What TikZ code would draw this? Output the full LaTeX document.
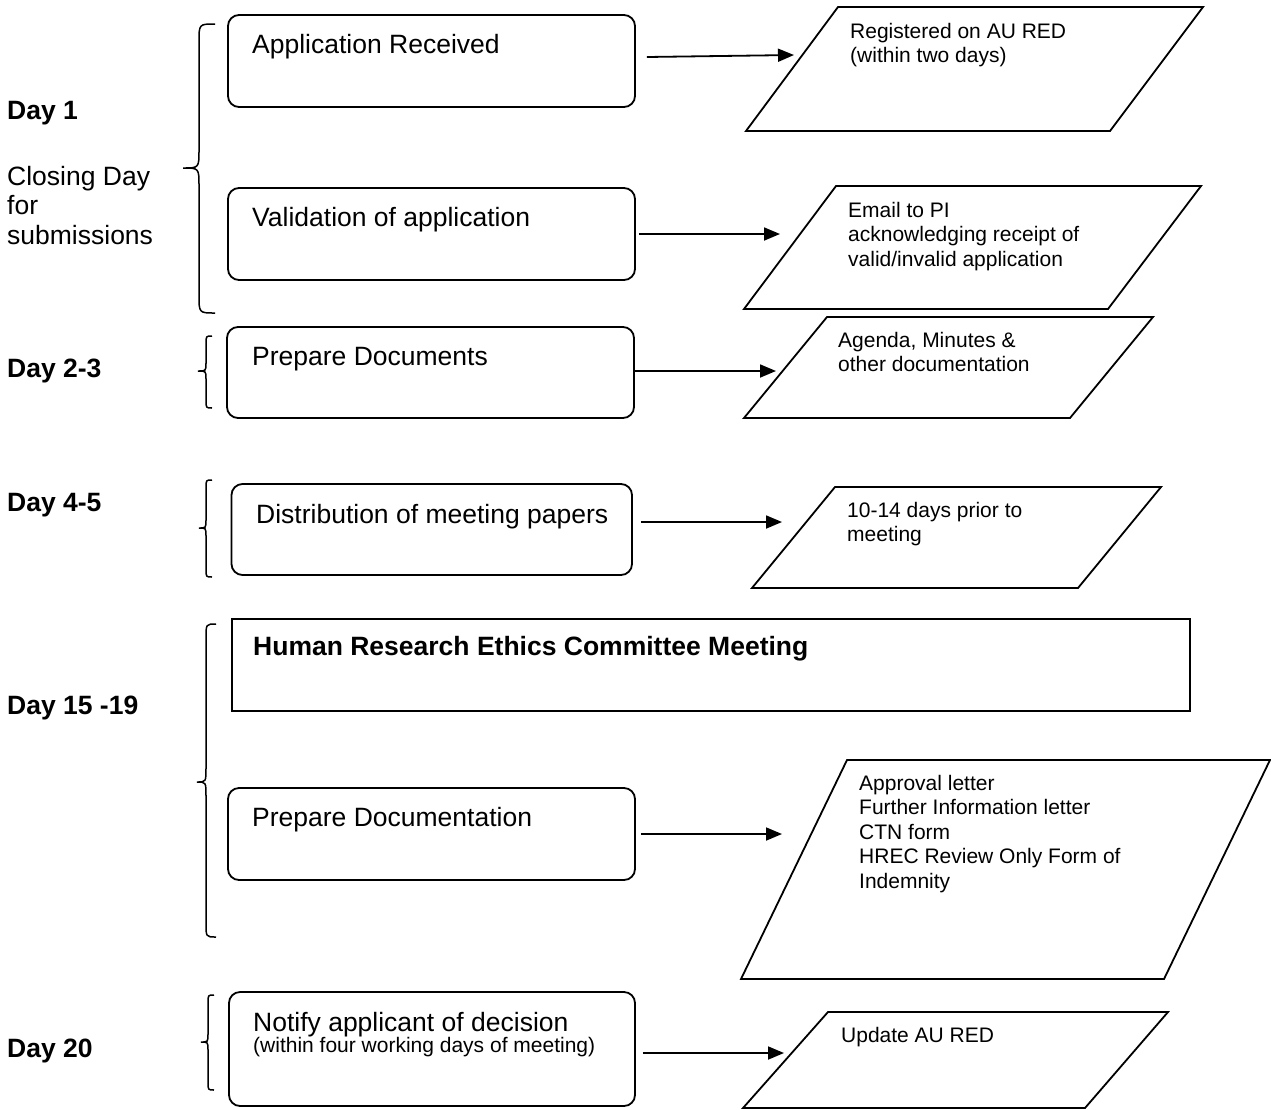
\documentclass[tikz,border=0pt]{standalone}
\usepackage{fontspec}
\setmainfont{Liberation Sans}
\usetikzlibrary{arrows.meta}
\newcommand\cbrace[7]{%
  \draw[bline] (#1,#4) .. controls (#2,#4) .. (#2,{#4+#7}) -- (#2,{#5-#7})
    .. controls (#2,#5) .. (#3,#5) .. controls (#2,#5) .. (#2,{#5+#7})
    -- (#2,{#6-#7}) .. controls (#2,#6) .. (#1,#6);}
\newcommand\lines[1]{\begin{tabular}[t]{@{}l@{}}#1\end{tabular}}
\begin{document}
\begin{tikzpicture}[x=1pt,y=-1pt,
  rbox/.style={draw, line width=1.8pt, rounded corners=11pt, inner sep=0pt},
  sbox/.style={draw, line width=1.8pt, inner sep=0pt},
  para/.style={draw, line width=1.8pt, line join=miter},
  bline/.style={line width=1.5pt},
  arr/.style={line width=1.8pt, -{Triangle[length=16pt,width=13pt]}},
  txt/.style={anchor=base west, inner sep=0pt, font=\fontsize{26.5}{29.5}\selectfont},
  btxt/.style={anchor=base west, inner sep=0pt, font=\fontsize{26.5}{29.5}\selectfont\bfseries},
  stxt/.style={anchor=base west, inner sep=0pt, font=\fontsize{21}{24.5}\selectfont},
]
\useasboundingbox (0,0) rectangle (1271,1109);
\fill[white] (0,0) rectangle (1271,1109);

% left labels
\node[btxt] (d1) at (7,119) {Day 1};
\node[txt] (cd) at (7,185) {\lines{Closing Day\\for\\submissions}};
\node[btxt] (d23) at (7,377) {Day 2-3};
\node[btxt] (d45) at (7,511) {Day 4-5};
\node[btxt] (d1519) at (7,714) {Day 15 -19};
\node[btxt] (d20) at (7,1057) {Day 20};

% braces
\cbrace{215}{199}{183}{24}{168}{313}{18}
\cbrace{212}{206}{198}{336}{371}{408}{8}
\cbrace{212}{206}{199}{480}{528}{577}{8}
\cbrace{216}{206}{197}{624}{782}{937}{14}
\cbrace{214}{208}{201}{995}{1042}{1090}{8}

% process boxes
\node[rbox, minimum width=407pt, minimum height=92pt] (b1) at (431.5,61) {};
\node[rbox, minimum width=407pt, minimum height=92pt] (b2) at (431.5,234) {};
\node[rbox, minimum width=407pt, minimum height=91pt] (b3) at (430.5,372.5) {};
\node[rbox, minimum width=400.5pt, minimum height=91pt] (b4) at (431.75,529.5) {};
\node[sbox, minimum width=958pt, minimum height=92pt] (b5) at (711,665) {};
\node[rbox, minimum width=407pt, minimum height=92pt] (b6) at (431.5,834) {};
\node[rbox, minimum width=406pt, minimum height=114pt] (b7) at (432,1049) {};

\node[txt] (t1) at (252,53) {Application Received};
\node[txt] (t2) at (252,226) {Validation of application};
\node[txt] (t3) at (252,365) {Prepare Documents};
\node[txt] (t4) at (256,523) {Distribution of meeting papers};
\node[btxt] (t5) at (253,655) {Human Research Ethics Committee Meeting};
\node[txt] (t6) at (252,826) {Prepare Documentation};
\node[txt] (t7) at (253,1031) {Notify applicant of decision};
\node[stxt] (t7b) at (253,1052) {(within four working days of meeting)};

% data parallelograms
\draw[para] (838,7) -- (1203,7) -- (1110,131) -- (746,131) -- cycle;
\draw[para] (836,186) -- (1201,186) -- (1108,309) -- (744,309) -- cycle;
\draw[para] (827,317) -- (1153,317) -- (1070,418) -- (744,418) -- cycle;
\draw[para] (835,487) -- (1161,487) -- (1078,588) -- (752,588) -- cycle;
\draw[para] (847,760) -- (1270,760) -- (1164,979) -- (741,979) -- cycle;
\draw[para] (828,1012) -- (1168,1012) -- (1085,1108) -- (743,1108) -- cycle;

\node[stxt] (p1) at (850,38) {\lines{Registered on AU RED\\(within two days)}};
\node[stxt] (p2) at (848,217) {\lines{Email to PI\\acknowledging receipt of\\valid/invalid application}};
\node[stxt] (p3) at (838,347) {\lines{Agenda, Minutes \&\\other documentation}};
\node[stxt] (p4) at (847,517) {\lines{10-14 days prior to\\meeting}};
\node[stxt] (p6) at (859,790) {\lines{Approval letter\\Further Information letter\\CTN form\\HREC Review Only Form of\\Indemnity}};
\node[stxt] (p7) at (841,1042) {Update AU RED};

% arrow targets
\coordinate (e1) at (794,55);
\coordinate (e2) at (780,234);
\coordinate (e3) at (776,371);
\coordinate (e4) at (782,522);
\coordinate (e6) at (782,834);
\coordinate (e7) at (784,1053);

\draw[arr] ([xshift=11pt,yshift=4pt]b1.east) -- (e1);
\draw[arr] ([xshift=3pt]b2.east) -- (e2);
\draw[arr] ([yshift=1.5pt]b3.east) -- (e3);
\draw[arr] ([xshift=8pt,yshift=7.5pt]b4.east) -- (e4);
\draw[arr] ([xshift=5pt]b6.east) -- (e6);
\draw[arr] ([xshift=7pt,yshift=-4pt]b7.east) -- (e7);
\end{tikzpicture}
\end{document}
